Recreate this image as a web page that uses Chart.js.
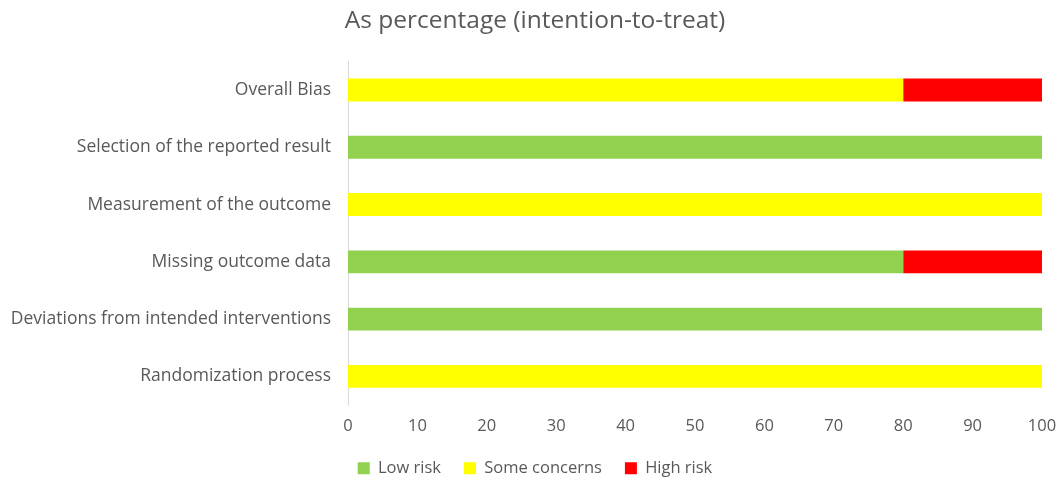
<!DOCTYPE html>
<html>
<head>
<meta charset="utf-8">
<script src="https://cdn.jsdelivr.net/npm/chart.js@4"></script>
<style>
  html, body { margin: 0; padding: 0; background: #fff; }
  #wrap { width: 1061px; height: 480px; }
</style>
</head>
<body>
<div id="wrap"><canvas id="chart" width="1061" height="480"></canvas></div>
<script>
const domains = [
    'Overall Bias',
    'Selection of the reported result',
    'Measurement of the outcome',
    'Missing outcome data',
    'Deviations from intended interventions',
    'Randomization process'
];
const lowRisk = [0, 100, 0, 80, 100, 0];
const someConcerns = [80, 0, 100, 0, 0, 100];
const highRisk = [20, 0, 0, 20, 0, 0];
const xTicks = [0, 10, 20, 30, 40, 50, 60, 70, 80, 90, 100];

const textColor = '#595959';
const family = '"Open Sans", sans-serif';

new Chart(document.getElementById('chart').getContext('2d'), {
    type: 'bar',
    data: {
        labels: domains,
        datasets: [
            { label: 'Low risk', data: lowRisk, backgroundColor: '#92d050' },
            { label: 'Some concerns', data: someConcerns, backgroundColor: '#ffff00' },
            { label: 'High risk', data: highRisk, backgroundColor: '#ff0000' }
        ]
    },
    options: {
        indexAxis: 'y',
        responsive: false,
        animation: false,
        categoryPercentage: 1,
        barPercentage: 0.4,
        layout: { padding: { left: 28, right: 19, top: 0, bottom: 0 } },
        scales: {
            x: {
                stacked: true,
                min: 0,
                max: 100,
                grid: { display: false, drawTicks: false },
                border: { display: false },
                afterBuildTicks: (axis) => { axis.ticks = xTicks.map(v => ({ value: v })); },
                afterFit: (axis) => {
                    axis.paddingRight = 0;
                    axis.height = 32;
                    axis._computeLabelArea = () => null;
                },
                ticks: { color: textColor, font: { family: family, size: 16.5 }, padding: 11 }
            },
            y: {
                stacked: true,
                grid: { display: false, drawTicks: false },
                border: { display: true, color: '#d9d9d9', width: 1 },
                ticks: { color: textColor, font: { family: family, size: 17.5 }, padding: 17 },
                afterFit: (axis) => {
                    axis.width = 320;
                    // long labels run into the left padding, so don't clip them
                    axis._computeLabelArea = () => null;
                }
            }
        },
        plugins: {
            title: {
                display: true,
                text: 'As percentage (intention-to-treat)',
                color: textColor,
                font: { family: family, size: 24.5, weight: 'normal' },
                padding: { top: 6, bottom: 26 }
            },
            legend: {
                position: 'bottom',
                maxHeight: 43,
                labels: {
                    color: textColor,
                    font: { family: family, size: 16.5 },
                    boxWidth: 12,
                    boxHeight: 12,
                    padding: 23
                }
            },
            tooltip: { enabled: false }
        }
    }
});
</script>
</body>
</html>
